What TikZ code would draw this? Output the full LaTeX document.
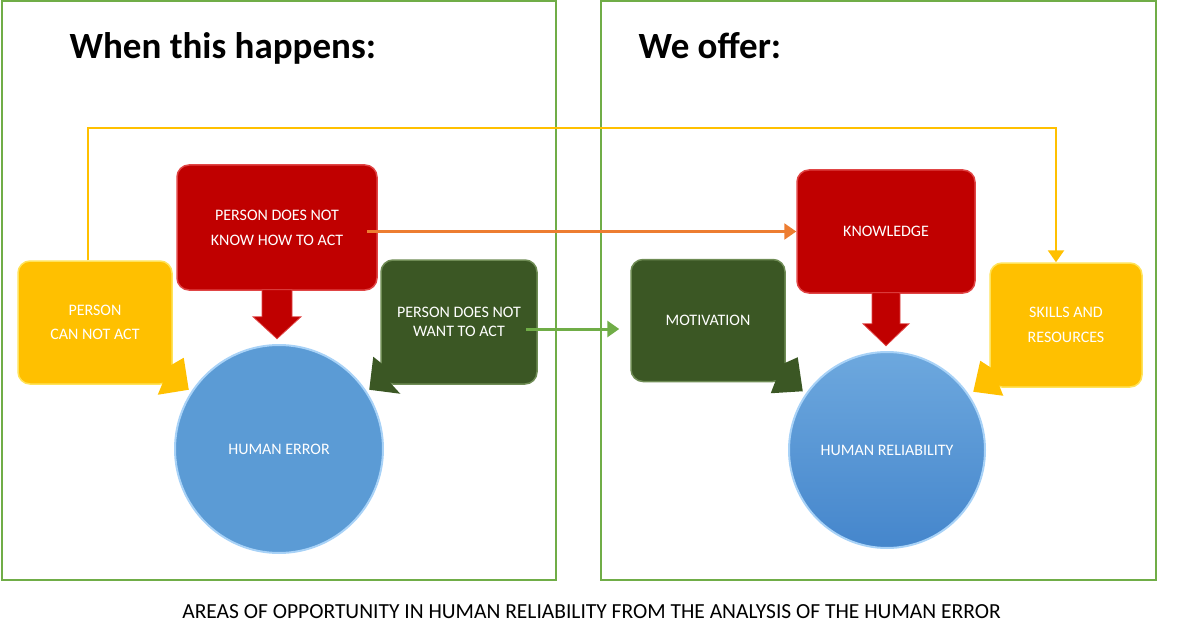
\documentclass[tikz,border=0pt]{standalone}
\usepackage{fontspec}
\setmainfont{Carlito}
\usetikzlibrary{arrows.meta}
\definecolor{frame}{HTML}{70AD47}
\definecolor{yel}{HTML}{FFC000}
\definecolor{yellite}{HTML}{FFE35A}
\definecolor{redc}{HTML}{C00000}
\definecolor{redlite}{HTML}{E04545}
\definecolor{grn}{HTML}{3B5724}
\definecolor{grnlite}{HTML}{6F8C55}
\definecolor{blu}{HTML}{5B9BD5}
\definecolor{blulite}{HTML}{A8D2F7}
\definecolor{blutop}{HTML}{6DA8DE}
\definecolor{blubot}{HTML}{4586CC}
\definecolor{orn}{HTML}{ED7D31}
\begin{document}
\begin{tikzpicture}[x=1pt,y=-1pt,
    box/.style={rectangle, rounded corners=12pt, text=white, align=center,
        font=\fontsize{16}{19}\selectfont, inner sep=0pt, line width=1.5pt},
    yelbox/.style={box, fill=yel, draw=yellite},
    redbox/.style={box, fill=redc, draw=redlite},
    grnbox/.style={box, fill=grn, draw=grnlite},
    ball/.style={circle, text=white, font=\fontsize{16}{19}\selectfont,
        inner sep=0pt, line width=2pt, draw=blulite},
    title/.style={anchor=base west, font=\fontsize{37}{44}\selectfont\bfseries},
    link/.style={line width=2.5pt, -{Triangle[length=12pt,width=16pt]}}]
    \useasboundingbox (0,0) rectangle (1186,639);
    % the two panels
    \draw[frame, line width=2pt] (1.5,1.5) rectangle (555.5,579.5);
    \draw[frame, line width=2pt] (601,1.5) rectangle (1155.5,579.5);
    \node[title] (h1) at (66,59) {When this happens:};
    \node[title] (h2) at (635,59) {We offer:};
    % left side
    \node[yelbox, minimum width=154pt, minimum height=123pt] (a) at (95,322.5)
        {PERSON\\[5pt]CAN NOT ACT};
    \node[redbox, minimum width=200pt, minimum height=125pt] (b) at (277,227.5)
        {PERSON DOES NOT\\[6pt]KNOW HOW TO ACT};
    \node[grnbox, minimum width=156pt, minimum height=124pt] (c) at (459,322)
        {PERSON DOES NOT\\WANT TO ACT};
    \node[ball, fill=blu, minimum size=208pt] (e) at (279,449) {HUMAN ERROR};
    % right side
    \node[grnbox, minimum width=154pt, minimum height=122pt] (m) at (708,320.5)
        {MOTIVATION};
    \node[redbox, minimum width=178pt, minimum height=123pt] (k) at (886,231.5)
        {KNOWLEDGE};
    \node[yelbox, minimum width=152pt, minimum height=124pt] (s) at (1066,325)
        {SKILLS AND\\[6pt]RESOURCES};
    \node[ball, top color=blutop, bottom color=blubot, minimum size=196pt] (r)
        at (887,450) {HUMAN RELIABILITY};
    % pointers towards the circles
    \fill[yel] ([shift={(-8,-16)}]a.south east) -- ([shift={(11,-27)}]a.south east)
        -- ([shift={(16,5)}]a.south east) -- ([shift={(-15,10)}]a.south east)
        -- ([shift={(-10,-2)}]a.south east) -- cycle;
    \fill[grn] ([shift={(8,-16)}]c.south west) -- ([shift={(-7,-28)}]c.south west)
        -- ([shift={(-11,5)}]c.south west) -- ([shift={(20,9)}]c.south west)
        -- ([shift={(10,-2)}]c.south west) -- cycle;
    \fill[grn] ([shift={(-8,-16)}]m.south east) -- ([shift={(12,-25)}]m.south east)
        -- ([shift={(17,9)}]m.south east) -- ([shift={(-15,11)}]m.south east)
        -- ([shift={(-10,-2)}]m.south east) -- cycle;
    \fill[yel] ([shift={(8,-16)}]s.south west) -- ([shift={(-9,-27)}]s.south west)
        -- ([shift={(-16,4)}]s.south west) -- ([shift={(14,8)}]s.south west)
        -- ([shift={(10,-2)}]s.south west) -- cycle;
    % block arrows
    \filldraw[redc, draw=redlite, line width=0.8pt] ([shift={(-15,-1)}]b.south)
        -- ++(0,27) -- ++(-9,0) -- ([shift={(0,48)}]b.south) -- ++(24,-22) -- ++(-9,0)
        -- ([shift={(15,-1)}]b.south) -- cycle;
    \filldraw[redc, draw=redlite, line width=0.8pt] ([shift={(-14,-1)}]k.south)
        -- ++(0,31) -- ++(-9,0) -- ([shift={(0,52)}]k.south) -- ++(23,-22) -- ++(-9,0)
        -- ([shift={(14,-1)}]k.south) -- cycle;
    % connectors
    \coordinate (t) at (88,128);
    \draw[link, yel] ([xshift=-7pt]a.north) -- (t) -| ([xshift=-10pt]s.north);
    \draw[link, orn] ([shift={(-11,4)}]b.east) -- (k.west);
    \draw[link, frame, line width=3pt] ([shift={(-12,7)}]c.east) -- ([shift={(-11,8.5)}]m.west);
    \node[font=\fontsize{21.5}{25}\selectfont] (cap) at (591.5,612)
        {AREAS OF OPPORTUNITY IN HUMAN RELIABILITY FROM THE ANALYSIS OF THE HUMAN ERROR};
\end{tikzpicture}
\end{document}
